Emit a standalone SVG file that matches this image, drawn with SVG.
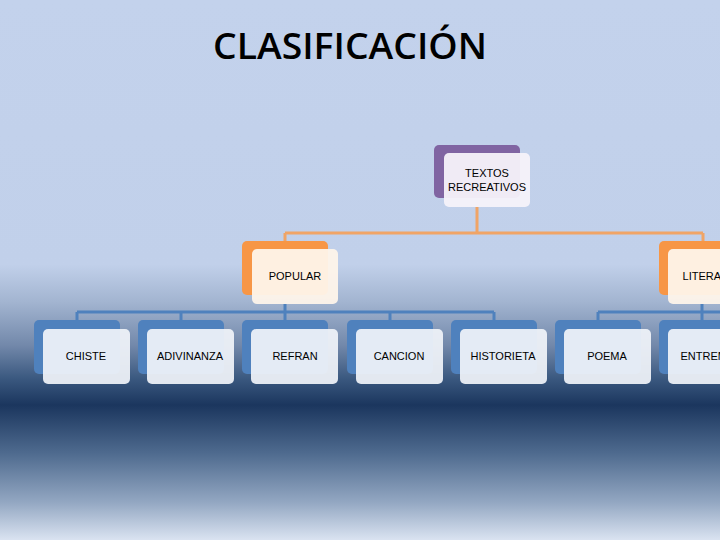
<svg xmlns="http://www.w3.org/2000/svg" width="720" height="540" viewBox="0 0 720 540">
<defs>
<linearGradient id="bg" x1="0" y1="0" x2="0" y2="540" gradientUnits="userSpaceOnUse">
<stop offset="0" stop-color="#C3D2EC"/>
<stop offset="0.49" stop-color="#C1D0EA"/>
<stop offset="0.56" stop-color="#A2B4D0"/>
<stop offset="0.64" stop-color="#7288AA"/>
<stop offset="0.70" stop-color="#3B5980"/>
<stop offset="0.75" stop-color="#1B365E"/>
<stop offset="0.84" stop-color="#4F6B8F"/>
<stop offset="0.93" stop-color="#93A7C2"/>
<stop offset="1" stop-color="#DAE3F1"/>
</linearGradient>
<style>
.t{font-family:"Liberation Sans",Arial,sans-serif;font-size:11px;fill:#000;text-anchor:middle}
.title{font-family:"Open Sans","Liberation Sans",sans-serif;font-size:36px;font-weight:600;fill:#000;text-anchor:middle}
.bp{fill:#8064A2}
.bo{fill:#F79646}
.bb{fill:#4F81BD}
.fp{fill:#F6F2FA;fill-opacity:0.95}
.fo{fill:#FEF4EA;fill-opacity:0.95}
.fb{fill:#F0F3F9;fill-opacity:0.93}
.co{stroke:#F0A466;stroke-width:3;fill:none}
.cb{stroke:#4F81BD;stroke-width:3;fill:none}
</style>
</defs>
<rect width="720" height="540" fill="url(#bg)"/>
<text class="title" x="350" y="59" textLength="274" lengthAdjust="spacingAndGlyphs">CLASIFICACIÓN</text>
<g id="connectors">
<path class="co" d="M477 207V233M285 233H703M285 233V242M703 233V242"/>
<path class="cb" d="M285 304V312M77 312H494M77 312V321M181 312V321M285 312V321M390 312V321M494 312V321"/>
<path class="cb" d="M702 304V312M598 312H722M598 312V321M702 312V321"/>
</g>
<g id="textos">
<rect class="bp" x="434" y="145" width="86" height="53" rx="5"/>
<rect class="fp" x="444" y="153" width="86" height="54" rx="5"/>
<text class="t" x="487" y="177">TEXTOS</text>
<text class="t" x="487" y="191">RECREATIVOS</text>
</g>
<g id="popular">
<rect class="bo" x="242" y="241" width="86" height="54" rx="5"/>
<rect class="fo" x="252" y="249" width="86" height="55" rx="5"/>
<text class="t" x="295" y="280">POPULAR</text>
</g>
<g id="literaria">
<rect class="bo" x="659" y="241" width="86" height="54" rx="5"/>
<rect class="fo" x="668" y="249" width="86" height="55" rx="5"/>
<text class="t" x="711" y="280">LITERARIA</text>
</g>
<g id="chiste">
<rect class="bb" x="34" y="320" width="86" height="54" rx="5"/>
<rect class="fb" x="43" y="329" width="87" height="55" rx="5"/>
<text class="t" x="86" y="360">CHISTE</text>
</g>
<g id="adivinanza">
<rect class="bb" x="138" y="320" width="86" height="54" rx="5"/>
<rect class="fb" x="147" y="329" width="87" height="55" rx="5"/>
<text class="t" x="190" y="360">ADIVINANZA</text>
</g>
<g id="refran">
<rect class="bb" x="242" y="320" width="86" height="54" rx="5"/>
<rect class="fb" x="251" y="329" width="87" height="55" rx="5"/>
<text class="t" x="295" y="360">REFRAN</text>
</g>
<g id="cancion">
<rect class="bb" x="347" y="320" width="86" height="54" rx="5"/>
<rect class="fb" x="356" y="329" width="87" height="55" rx="5"/>
<text class="t" x="399" y="360">CANCION</text>
</g>
<g id="historieta">
<rect class="bb" x="451" y="320" width="86" height="54" rx="5"/>
<rect class="fb" x="460" y="329" width="87" height="55" rx="5"/>
<text class="t" x="503" y="360">HISTORIETA</text>
</g>
<g id="poema">
<rect class="bb" x="555" y="320" width="86" height="54" rx="5"/>
<rect class="fb" x="564" y="329" width="87" height="55" rx="5"/>
<text class="t" x="607" y="360">POEMA</text>
</g>
<g id="entre">
<rect class="bb" x="659" y="320" width="86" height="54" rx="5"/>
<rect class="fb" x="668" y="329" width="87" height="55" rx="5"/>
<text class="t" x="711" y="360">ENTREMES</text>
</g>
</svg>
